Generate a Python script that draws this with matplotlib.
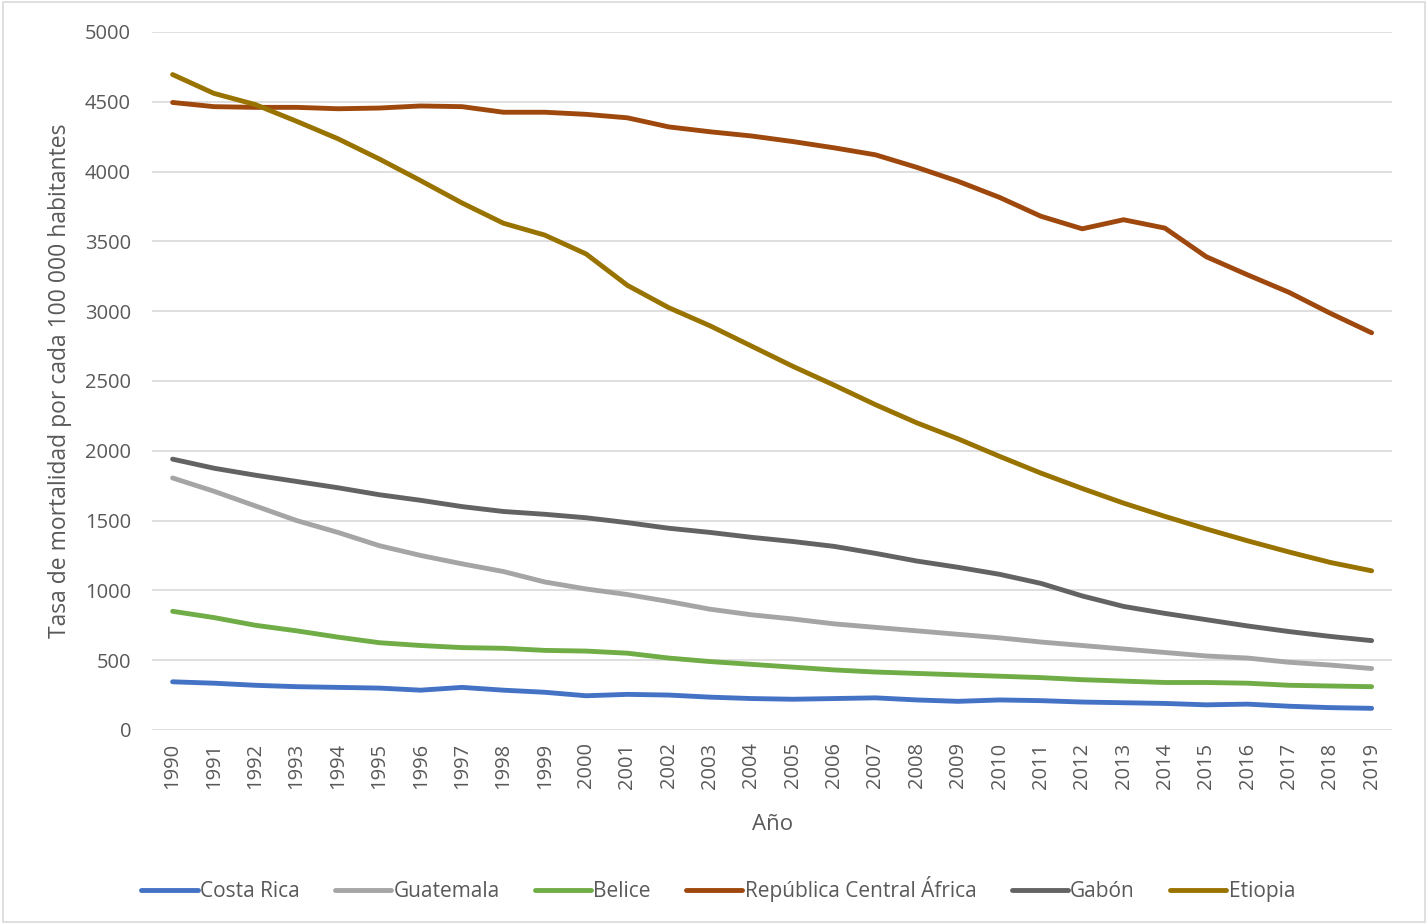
import matplotlib.pyplot as plt
from matplotlib.patches import Rectangle

years = list(range(1990, 2020))

costa_rica = [345, 335, 320, 310, 305, 300, 285, 305, 285, 270,
              245, 255, 250, 235, 225, 220, 225, 230, 215, 205,
              215, 210, 200, 195, 190, 180, 185, 170, 160, 155]
guatemala = [1805, 1710, 1605, 1500, 1415, 1320, 1250, 1190, 1135, 1060,
             1010, 970, 920, 865, 825, 795, 760, 735, 710, 685,
             660, 630, 605, 580, 555, 530, 515, 485, 465, 440]
belice = [850, 805, 750, 710, 665, 625, 605, 590, 585, 570,
          565, 550, 515, 490, 470, 450, 430, 415, 405, 395,
          385, 375, 360, 350, 340, 340, 335, 320, 315, 310]
rca = [4495, 4465, 4460, 4460, 4450, 4455, 4470, 4465, 4425, 4425,
       4410, 4385, 4320, 4285, 4255, 4215, 4170, 4120, 4030, 3930,
       3815, 3680, 3590, 3655, 3595, 3390, 3260, 3135, 2985, 2845]
gabon = [1940, 1875, 1825, 1780, 1735, 1685, 1645, 1600, 1565, 1545,
         1520, 1485, 1445, 1415, 1380, 1350, 1315, 1265, 1210, 1165,
         1115, 1050, 960, 885, 835, 790, 745, 705, 670, 640]
etiopia = [4695, 4560, 4480, 4360, 4235, 4090, 3935, 3775, 3630, 3545,
           3410, 3185, 3025, 2895, 2750, 2605, 2470, 2330, 2200, 2085,
           1960, 1840, 1730, 1625, 1530, 1440, 1355, 1275, 1200, 1140]

series = [
    ("Costa Rica", costa_rica, "#4472C4"),
    ("Guatemala", guatemala, "#A5A5A5"),
    ("Belice", belice, "#70AD47"),
    ("República Central África", rca, "#9E480E"),
    ("Gabón", gabon, "#636363"),
    ("Etiopia", etiopia, "#997300"),
]

plt.rcParams['font.family'] = ['Open Sans', 'DejaVu Sans']
text_col = "#595959"

fig = plt.figure(figsize=(14.28, 9.24), dpi=100)
ax = fig.add_axes([0.1064, 0.210, 0.8686, 0.7554])

for name, vals, col in series:
    ax.plot(years, vals, color=col, lw=3.5, label=name,
            solid_capstyle='round', solid_joinstyle='round')

ax.set_xlim(1989.5, 2019.5)
ax.set_ylim(0, 5000)
ax.set_yticks(range(0, 5001, 500))
ax.set_xticks(years)
ax.set_xticklabels([str(y) for y in years], rotation=90)
ax.tick_params(axis='both', length=0, labelsize=14.5, colors=text_col)
ax.tick_params(axis='y', pad=15)
ax.tick_params(axis='x', pad=9)
ax.grid(axis='y', color="#D9D9D9", lw=1.2)
ax.set_axisbelow(True)
for s in ax.spines.values():
    s.set_visible(False)

ax.set_xlabel("Año", fontsize=16, color=text_col, labelpad=18)
ax.set_ylabel("Tasa de mortalidad por cada 100 000 habitantes",
              fontsize=16.5, color=text_col, labelpad=9)

handles, labels = ax.get_legend_handles_labels()
fig.legend(handles, labels, loc='center', bbox_to_anchor=(0.503, 0.038), ncol=6,
           frameon=False, fontsize=15, labelcolor=text_col, handlelength=2.7,
           handletextpad=0.1, columnspacing=1.7)

# thin frame around the whole chart
fig.patches.append(Rectangle((0.002, 0.002), 0.996, 0.996, transform=fig.transFigure,
                             fill=False, edgecolor="#D9D9D9", lw=1.2))

fig.savefig("out.png", dpi=100)
